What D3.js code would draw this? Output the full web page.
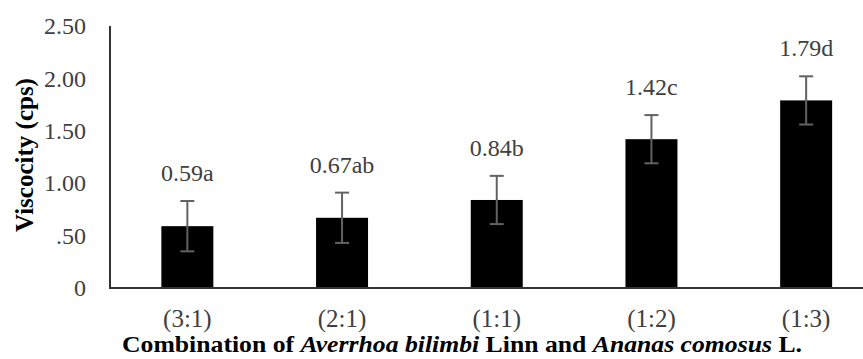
<!DOCTYPE html>
<html>
<head>
<meta charset="utf-8">
<script src="https://cdn.jsdelivr.net/npm/d3@7/dist/d3.min.js"></script>
<style>
  html, body { margin: 0; padding: 0; background: #fff; }
  svg { display: block; }
  text { font-family: "Liberation Serif", "Times New Roman", serif; }
</style>
</head>
<body>
<svg id="chart" width="863" height="359"></svg>
<script>
// Viscosity of each blend ratio, with its standard deviation and significance letter
const ratios = ["(3:1)", "(2:1)", "(1:1)", "(1:2)", "(1:3)"];
const viscosity = [0.59, 0.67, 0.84, 1.42, 1.79];
const stdDev = [0.24, 0.24, 0.23, 0.23, 0.23];
const groups = ["a", "ab", "b", "c", "d"];
const yTicks = [0, 0.5, 1.0, 1.5, 2.0, 2.5];
const yTickLabels = ["0", ".50", "1.00", "1.50", "2.00", "2.50"];

const svg = d3.select("#chart");
const plotLeft = 110, plotBottom = 288, plotTop = 26, bandStep = 154.7;
const serif = "'Liberation Serif', 'Times New Roman', serif";

const x = d3.scaleBand()
  .domain(ratios)
  .range([plotLeft, plotLeft + bandStep * ratios.length])
  .paddingInner(0.664)
  .paddingOuter(0.332);

const y = d3.scaleLinear().domain([0, 2.5]).range([plotBottom, plotTop]);

// y axis: labels only, no tick marks
const yAxis = svg.append("g")
  .attr("transform", `translate(${plotLeft},0)`)
  .call(d3.axisLeft(y).tickValues(yTicks)
    .tickFormat((d, i) => yTickLabels[i]).tickSize(0).tickPadding(24));
yAxis.select(".domain").remove();
yAxis.selectAll("text")
  .attr("font-size", 24).attr("fill", "#404040")
  .style("font-family", serif);

// bars
svg.append("g").selectAll("rect")
  .data(viscosity)
  .join("rect")
  .attr("x", (d, i) => x(ratios[i]))
  .attr("y", d => y(d))
  .attr("width", x.bandwidth())
  .attr("height", d => y(0) - y(d))
  .attr("fill", "#000");

// error bars
const err = svg.append("g").attr("stroke", "#626262").attr("stroke-width", 2);
viscosity.forEach((v, i) => {
  const cx = x(ratios[i]) + x.bandwidth() / 2;
  const hi = y(v + stdDev[i]), lo = y(v - stdDev[i]);
  err.append("line").attr("x1", cx).attr("x2", cx).attr("y1", hi).attr("y2", lo);
  err.append("line").attr("x1", cx - 7).attr("x2", cx + 7).attr("y1", hi).attr("y2", hi);
  err.append("line").attr("x1", cx - 7).attr("x2", cx + 7).attr("y1", lo).attr("y2", lo);
});

// value labels with significance letters
svg.append("g").selectAll("text")
  .data(viscosity)
  .join("text")
  .attr("x", (d, i) => x(ratios[i]) + x.bandwidth() / 2)
  .attr("y", (d, i) => y(d + stdDev[i]) - 20)
  .attr("text-anchor", "middle")
  .attr("font-size", 24)
  .attr("fill", "#404040")
  .style("font-family", serif)
  .text((d, i) => d.toFixed(2) + groups[i]);

// axis lines
svg.append("line").attr("x1", plotLeft).attr("x2", plotLeft).attr("y1", plotTop).attr("y2", plotBottom + 1)
  .attr("stroke", "#333").attr("stroke-width", 2);
svg.append("line").attr("x1", plotLeft - 1).attr("x2", 863).attr("y1", plotBottom).attr("y2", plotBottom)
  .attr("stroke", "#333").attr("stroke-width", 2);

// category labels
const xAxis = svg.append("g")
  .attr("transform", `translate(0,${plotBottom})`)
  .call(d3.axisBottom(x).tickSize(0).tickPadding(21));
xAxis.select(".domain").remove();
xAxis.selectAll("text")
  .attr("font-size", 25).attr("fill", "#404040")
  .style("font-family", serif);

// y axis title
svg.append("text")
  .attr("transform", "translate(33,155) rotate(-90)")
  .attr("text-anchor", "middle")
  .attr("font-size", 25)
  .attr("font-weight", "bold")
  .attr("fill", "#000")
  .style("font-family", serif)
  .text("Viscocity (cps)");

// x axis title with italic species names
const title = svg.append("text")
  .attr("x", 122).attr("y", 352)
  .attr("font-size", 24)
  .attr("font-weight", "bold")
  .attr("fill", "#000")
  .style("font-family", serif)
  .attr("textLength", 680)
  .attr("lengthAdjust", "spacingAndGlyphs");
title.append("tspan").text("Combination of ");
title.append("tspan").attr("font-style", "italic").text("Averrhoa bilimbi");
title.append("tspan").text(" Linn and ");
title.append("tspan").attr("font-style", "italic").text("Ananas comosus");
title.append("tspan").text(" L.");
</script>
</body>
</html>
